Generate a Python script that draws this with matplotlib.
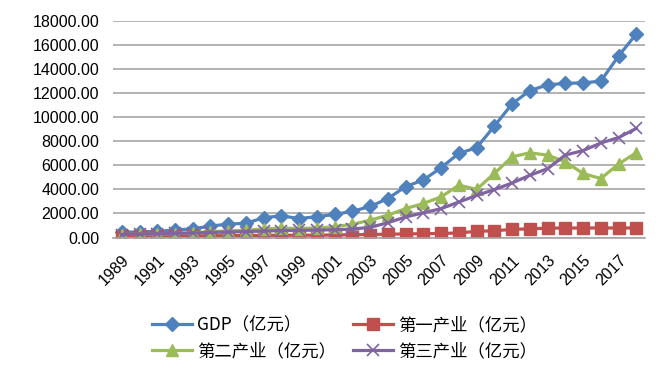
import numpy as np
import matplotlib
matplotlib.use('Agg')
import matplotlib.pyplot as plt

plt.rcParams['font.family'] = ['Liberation Sans', 'Noto Sans CJK SC', 'DejaVu Sans']

# Data (unit: 亿元)
years = list(range(1989, 2019))
gdp = [450, 460, 520, 620, 720, 950, 1120, 1180, 1650, 1800, 1580, 1730, 1920, 2180,
       2580, 3240, 4230, 4780, 5800, 6990, 7460, 9250, 11100, 12200, 12680, 12800,
       12850, 12980, 15070, 16900]
primary = [100, 110, 110, 120, 130, 150, 160, 170, 180, 190, 190, 200, 210, 230,
           250, 280, 300, 320, 340, 380, 520, 560, 680, 720, 780, 790, 790, 800,
           790, 800]
secondary = [250, 260, 280, 330, 400, 480, 560, 600, 720, 780, 750, 800, 900, 1100,
             1440, 1860, 2400, 2830, 3380, 4350, 4000, 5320, 6700, 7040, 6840, 6300,
             5320, 4900, 6100, 7050]
tertiary = [250, 280, 310, 340, 380, 420, 460, 500, 540, 580, 600, 620, 650, 700,
            850, 1230, 1710, 2050, 2400, 2950, 3500, 3980, 4530, 5170, 5720, 6850,
            7220, 7850, 8300, 9060]
labels = ['GDP（亿元）', '第一产业（亿元）', '第二产业（亿元）', '第三产业（亿元）']

fig = plt.figure(figsize=(6.72, 3.85), dpi=100)
ax = fig.add_axes([0.168, 0.383, 0.792, 0.563])

x = np.arange(len(years))
l1, = ax.plot(x, gdp, '-', color='#4F81BD', lw=2.3, marker='D', ms=7)
l2, = ax.plot(x, primary, '-', color='#C0504D', lw=2.3, marker='s', ms=8.5)
l3, = ax.plot(x, secondary, '-', color='#9BBB59', lw=2.3, marker='^', ms=9)
l4, = ax.plot(x, tertiary, '-', color='#8064A2', lw=2.3, marker='x', ms=8.5, mew=1.2)

ax.set_ylim(0, 18000)
ax.set_yticks(np.arange(0, 18001, 2000))
ax.set_yticklabels([f'{v:.2f}' for v in np.arange(0, 18001, 2000)], fontsize=11.5)
ax.set_xlim(-0.5, len(years) - 0.5)
ax.set_xticks(x[::2])
ax.set_xticklabels([str(y) for y in years[::2]], rotation=45, ha='right', va='top',
                   rotation_mode='anchor', fontsize=11.5)
ax.tick_params(axis='y', length=0, pad=10)
ax.tick_params(axis='x', length=0, pad=11)

ax.grid(axis='y', color='#a6a6a6', lw=1.2)
ax.set_axisbelow(True)
for s in ['top', 'right', 'left']:
    ax.spines[s].set_visible(False)
ax.spines['bottom'].set_color('#a6a6a6')
ax.spines['bottom'].set_linewidth(1.2)

# row-major order: GDP, 第一 / 第二, 第三
fig.legend([l1, l3, l2, l4], [labels[0], labels[2], labels[1], labels[3]],
           loc='upper left', bbox_to_anchor=(0.226, 0.178), ncol=2, frameon=False,
           handlelength=2.3, columnspacing=1.0, handletextpad=0.3,
           labelspacing=0.45, borderaxespad=0, borderpad=0,
           prop={'family': ['Noto Sans CJK SC'], 'size': 12.5})

fig.savefig('out.png', dpi=100)
